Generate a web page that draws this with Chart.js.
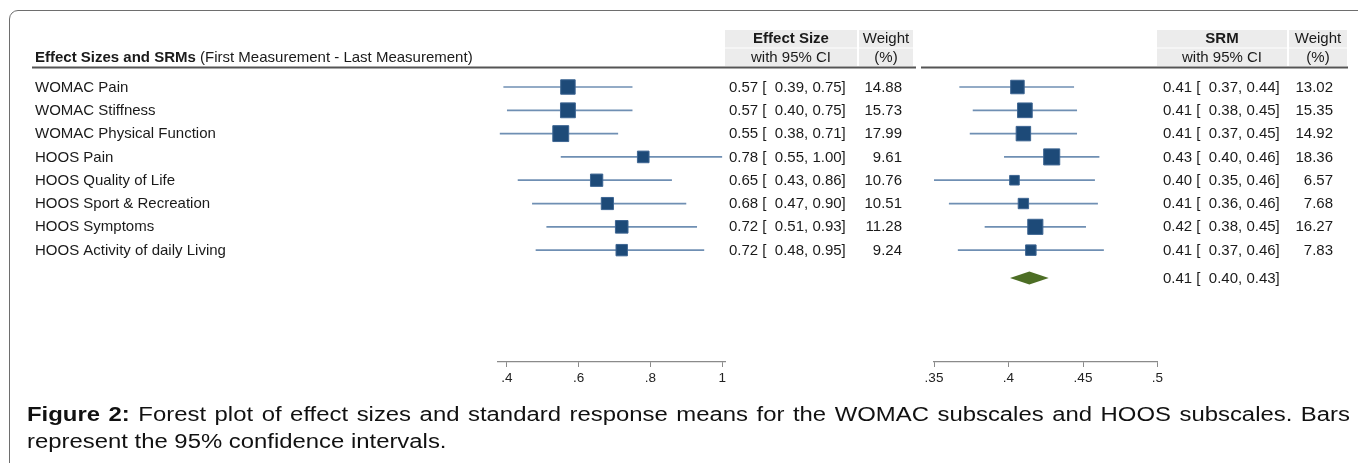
<!DOCTYPE html>
<html>
<head>
<meta charset="utf-8">
<title>Forest plot</title>
<script src="https://cdn.jsdelivr.net/npm/chart.js@4.4.1/dist/chart.umd.min.js"></script>
<style>
  body { margin: 0; width: 1358px; height: 463px; overflow: hidden; background: #fff; position: relative;
         font-family: "Liberation Sans", Arial, sans-serif; }
  .frame { position: absolute; left: 9px; top: 10px; width: 1400px; height: 500px;
           border: 1.5px solid #6e6e6e; border-radius: 9px 0 0 0; }
  canvas { position: absolute; left: 0; top: 0; }
  #caption { position: absolute; left: 27px; top: 401px; width: 1108px; font-size: 20px; line-height: 27px; color: #111;
             transform: scaleX(1.194); transform-origin: 0 0; white-space: nowrap; }
  #caption .first { text-align: justify; text-align-last: justify; white-space: normal; }
</style>
</head>
<body>
<div class="frame"></div>
<canvas id="esChart" width="1358" height="400"></canvas>
<canvas id="srmChart" width="1358" height="400"></canvas>
<div id="caption">
  <div class="first"><b>Figure 2:</b> Forest plot of effect sizes and standard response means for the WOMAC subscales and HOOS subscales. Bars</div>
  <div>represent the 95% confidence intervals.</div>
</div>

<script>
// Outcomes (one row each)
const outcomes = ['WOMAC Pain', 'WOMAC Stiffness', 'WOMAC Physical Function', 'HOOS Pain',
    'HOOS Quality of Life', 'HOOS Sport & Recreation', 'HOOS Symptoms', 'HOOS Activity of daily Living'];

// Effect sizes with 95% CI and weight (%)
const esValues = [0.57, 0.57, 0.55, 0.78, 0.65, 0.68, 0.72, 0.72];
const esLower = [0.39, 0.40, 0.38, 0.55, 0.43, 0.47, 0.51, 0.48];
const esUpper = [0.75, 0.75, 0.71, 1.00, 0.86, 0.90, 0.93, 0.95];
const esWeight = [14.88, 15.73, 17.99, 9.61, 10.76, 10.51, 11.28, 9.24];
const esTicks = [0.4, 0.6, 0.8, 1];

// SRMs with 95% CI and weight (%), as printed
const srmValues = [0.41, 0.41, 0.41, 0.43, 0.40, 0.41, 0.42, 0.41];
const srmLower = [0.37, 0.38, 0.37, 0.40, 0.35, 0.36, 0.38, 0.37];
const srmUpper = [0.44, 0.45, 0.45, 0.46, 0.46, 0.46, 0.45, 0.46];
const srmWeight = [13.02, 15.35, 14.92, 18.36, 6.57, 7.68, 16.27, 7.83];
const srmPooled = [0.41, 0.40, 0.43];
// unrounded SRM positions
const srmPlotValues = [0.406, 0.411, 0.410, 0.429, 0.404, 0.410, 0.418, 0.415];
const srmPlotLower = [0.367, 0.376, 0.374, 0.397, 0.350, 0.360, 0.384, 0.366];
const srmPlotUpper = [0.444, 0.446, 0.446, 0.461, 0.458, 0.460, 0.452, 0.464];
const srmPooledPlot = [0.414, 0.401, 0.427];
const srmTicks = [0.35, 0.4, 0.45, 0.5];

const FONT = '"Liberation Sans", Arial, sans-serif';
const rows = outcomes.map((_, i) => i + 1);
const pooledRow = outcomes.length + 1.2;

// Draws the text columns next to the plot
const tablePlugin = {
    id: 'table',
    afterDraw(chart, args, opts) {
        const ctx = chart.ctx;
        const y = chart.scales.y;
        ctx.save();
        ctx.textBaseline = 'middle';

        // header boxes
        ctx.fillStyle = '#ececec';
        opts.boxes.forEach(([x0, x1]) => {
            ctx.fillRect(x0, 30, x1 - x0, 17.5);
            ctx.fillRect(x0, 48.5, x1 - x0, 17.5);
        });
        ctx.strokeStyle = '#555';
        ctx.lineWidth = 2;
        ctx.beginPath();
        ctx.moveTo(opts.rule[0], 67.5);
        ctx.lineTo(opts.rule[1], 67.5);
        ctx.stroke();

        ctx.fillStyle = '#1a1a1a';
        ctx.textAlign = 'center';
        ctx.font = 'bold 15px ' + FONT;
        ctx.fillText(opts.head, opts.headX, 39);
        ctx.font = '15px ' + FONT;
        ctx.fillText('Weight', opts.weightHeadX, 39);
        ctx.fillText('with 95% CI', opts.headX, 57.5);
        ctx.fillText('(%)', opts.weightHeadX, 57.5);

        if (opts.title) {
            ctx.textAlign = 'left';
            ctx.font = 'bold 15px ' + FONT;
            ctx.fillText(opts.title[0], 35, 57.5);
            const w = ctx.measureText(opts.title[0]).width;
            ctx.font = '15px ' + FONT;
            ctx.fillText(opts.title[1], 35 + w, 57.5);
            outcomes.forEach((name, i) => ctx.fillText(name, 35, y.getPixelForValue(rows[i]) + 0.5));
        }

        ctx.font = '15px ' + FONT;
        const c = opts.cols;
        const line = (est, lo, hi, w, py) => {
            ctx.textAlign = 'left';
            ctx.fillText(est.toFixed(2) + ' [  ' + lo.toFixed(2) + ', ' + hi.toFixed(2) + ']', c[0], py);
            ctx.textAlign = 'right';
            if (w !== null) ctx.fillText(w.toFixed(2), c[1], py);
        };
        opts.est.forEach((v, i) => line(v, opts.lo[i], opts.hi[i], opts.weight[i], y.getPixelForValue(rows[i]) + 0.5));
        if (opts.pooled) line(opts.pooled[0], opts.pooled[1], opts.pooled[2], null, y.getPixelForValue(pooledRow) + 0.5);

        // pooled estimate diamond
        if (opts.diamond) {
            const x = chart.scales.x;
            const py = y.getPixelForValue(pooledRow);
            const [m, lo, hi] = opts.diamond;
            ctx.fillStyle = '#4d6e25';
            ctx.beginPath();
            ctx.moveTo(x.getPixelForValue(lo), py);
            ctx.lineTo(x.getPixelForValue(m), py - 6.5);
            ctx.lineTo(x.getPixelForValue(hi), py);
            ctx.lineTo(x.getPixelForValue(m), py + 6.5);
            ctx.closePath();
            ctx.fill();
        }
        ctx.restore();
    }
};

// Builds one forest panel
function makeForest(canvasId, cfg) {
    const ciSets = rows.map((r, i) => ({
        type: 'line',
        data: [{ x: cfg.lo[i], y: r }, { x: cfg.hi[i], y: r }],
        borderColor: '#6f8fb3',
        borderWidth: 1.7,
        pointRadius: 0,
        order: 2
    }));
    const squares = {
        type: 'scatter',
        data: rows.map((r, i) => ({ x: cfg.est[i], y: r })),
        pointStyle: 'rect',
        pointRadius: cfg.weight.map(w => 2.65 * Math.sqrt(w)),
        backgroundColor: '#1d4a78',
        borderColor: '#3d6592',
        borderWidth: 1,
        order: 1
    };

    return new Chart(document.getElementById(canvasId).getContext('2d'), {
        type: 'scatter',
        data: { datasets: [...ciSets, squares] },
        options: {
            responsive: false,
            animation: false,
            clip: false,
            layout: { padding: cfg.padding },
            plugins: {
                legend: { display: false },
                tooltip: { enabled: false },
                table: cfg.table
            },
            scales: {
                x: {
                    type: 'linear',
                    min: cfg.min,
                    max: cfg.max,
                    afterBuildTicks: s => { s.ticks = cfg.ticks.map(v => ({ value: v })); },
                    afterFit: s => { s.height = 30; },
                    border: { display: true, color: '#8a8a8a', width: 1.2 },
                    grid: { drawOnChartArea: false, drawTicks: true, tickLength: 5, color: '#8a8a8a' },
                    ticks: {
                        padding: 3,
                        color: '#222',
                        font: { family: FONT, size: 13.5 },
                        callback: v => String(v).replace(/^0/, '')
                    }
                },
                y: { type: 'linear', display: false, reverse: true, min: 0, max: 12.8 }
            }
        },
        plugins: [tablePlugin]
    });
}

makeForest('esChart', {
    est: esValues, lo: esLower, hi: esUpper, weight: esWeight,
    min: 0.375, max: 1.008, ticks: esTicks,
    padding: { left: 498, right: 633, top: 63.7, bottom: 8 },
    table: {
        title: ['Effect Sizes and SRMs', ' (First Measurement - Last Measurement)'],
        head: 'Effect Size', headX: 791, weightHeadX: 886,
        boxes: [[725, 857], [859, 913]], rule: [32, 916],
        cols: [729, 902],
        est: esValues, lo: esLower, hi: esUpper, weight: esWeight
    }
});

makeForest('srmChart', {
    est: srmPlotValues, lo: srmPlotLower, hi: srmPlotUpper, weight: srmWeight,
    min: 0.35, max: 0.5, ticks: srmTicks,
    padding: { left: 934, right: 200.5, top: 63.7, bottom: 8 },
    table: {
        head: 'SRM', headX: 1222, weightHeadX: 1318,
        boxes: [[1157, 1287], [1289, 1347]], rule: [921, 1348],
        cols: [1163, 1333],
        est: srmValues, lo: srmLower, hi: srmUpper, weight: srmWeight,
        pooled: srmPooled, diamond: srmPooledPlot
    }
});
</script>
</body>
</html>
